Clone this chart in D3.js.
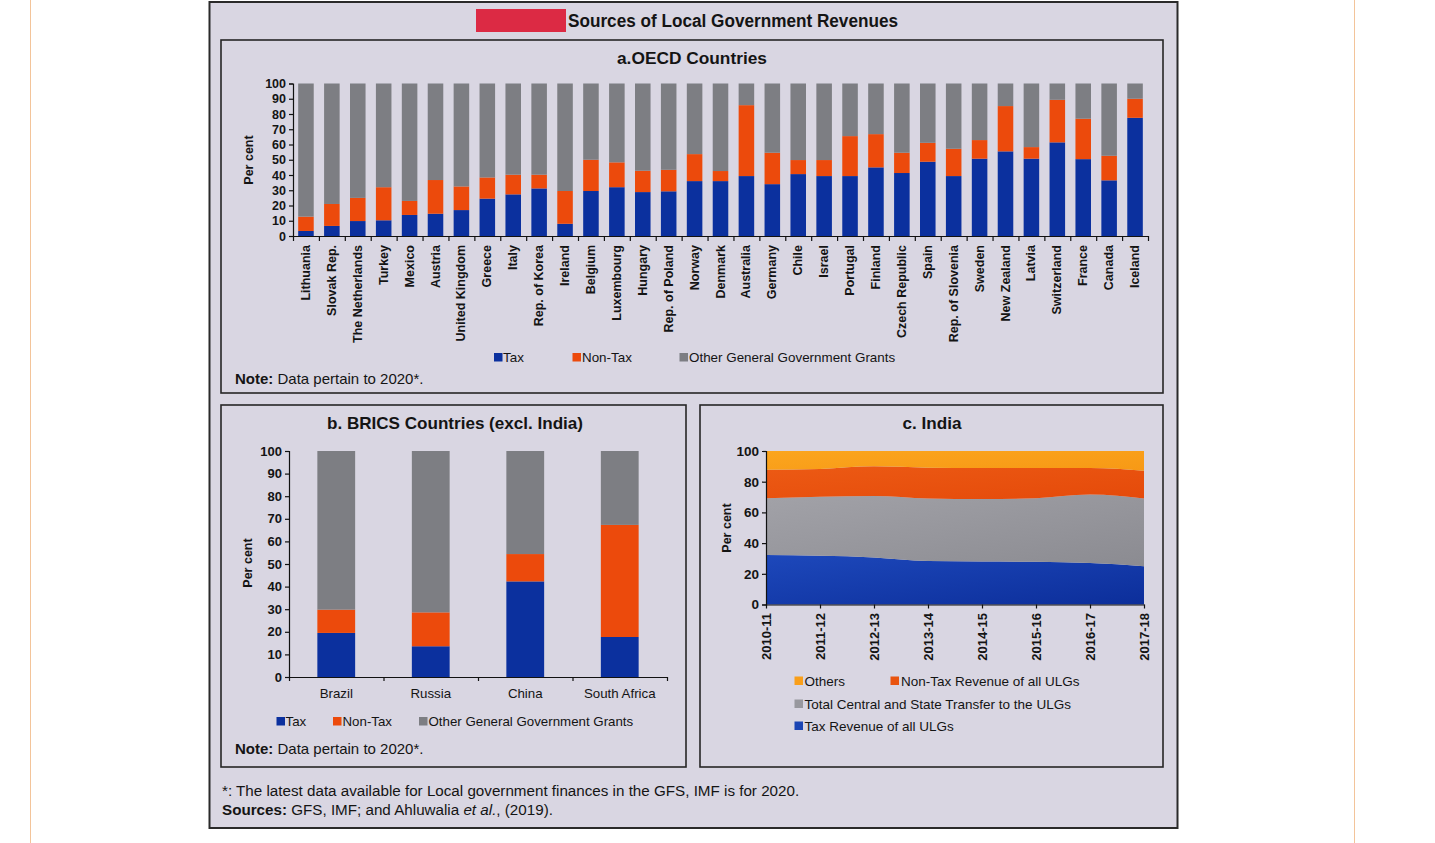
<!DOCTYPE html>
<html><head><meta charset="utf-8">
<script src="https://cdn.jsdelivr.net/npm/d3@7"></script>
<style>
body{margin:0;background:#fff;}
svg{display:block;font-family:"Liberation Sans",Arial,Helvetica,sans-serif;}
</style></head><body>
<svg id="chart" width="1435" height="843"></svg>
<script>
// ---------- DATA ----------
const oecdCountries = ["Lithuania","Slovak Rep.","The Netherlands","Turkey","Mexico","Austria","United Kingdom","Greece","Italy","Rep. of Korea","Ireland","Belgium","Luxembourg","Hungary","Rep. of Poland","Norway","Denmark","Australia","Germany","Chile","Israel","Portugal","Finland","Czech Republic","Spain","Rep. of Slovenia","Sweden","New Zealand","Latvia","Switzerland","France","Canada","Iceland"];
const oecdTax    = [3.3, 6.6, 9.8, 10.3, 13.8, 14.6, 17.0, 24.5, 27.3, 31.2, 8.0, 29.5, 32.0, 28.8, 29.3, 36.0, 36.0, 39.3, 34.0, 40.6, 39.3, 39.3, 45.0, 41.3, 48.7, 39.3, 50.7, 55.5, 50.7, 61.4, 50.4, 36.5, 77.5];
const oecdNonTax = [9.4, 14.4, 15.2, 21.7, 9.2, 22.1, 15.5, 13.9, 12.9, 9.0, 21.5, 20.5, 16.3, 14.0, 14.1, 17.7, 6.6, 46.5, 20.6, 9.2, 10.5, 26.2, 21.8, 13.3, 12.4, 17.9, 12.2, 29.7, 7.6, 27.9, 26.5, 16.1, 12.5];
const oecdOther  = [87.3, 79.0, 75.0, 68.0, 77.0, 63.3, 67.5, 61.6, 59.8, 59.8, 70.5, 50.0, 51.7, 57.2, 56.6, 46.3, 57.4, 14.2, 45.4, 50.2, 50.2, 34.5, 33.2, 45.4, 38.9, 42.8, 37.1, 14.8, 41.7, 10.7, 23.1, 47.4, 10.0];

const bricsCountries = ["Brazil","Russia","China","South Africa"];
const bricsTax    = [19.5, 13.6, 42.3, 17.7];
const bricsNonTax = [10.3, 15.0, 12.1, 49.6];
const bricsOther  = [70.2, 71.4, 45.6, 32.7];

const indiaYears    = ["2010-11","2011-12","2012-13","2013-14","2014-15","2015-16","2016-17","2017-18"];
const indiaTax      = [32.2, 31.7, 30.7, 28.3, 28.0, 27.8, 27.0, 25.0];
const indiaTransfer = [37.1, 38.5, 40.0, 40.8, 40.7, 41.5, 44.7, 44.1];
const indiaNonTax   = [18.5, 18.1, 19.3, 20.0, 20.2, 19.6, 17.2, 18.1];
const indiaOthers   = [12.2, 11.7, 10.0, 10.9, 11.1, 11.1, 11.1, 12.8];

const ticksA = [0,10,20,30,40,50,60,70,80,90,100];
const ticksB = [0,10,20,30,40,50,60,70,80,90,100];
const ticksC = [0,20,40,60,80,100];

// ---------- STYLE ----------
const C = {tax:"#0b309e", nontax:"#ec4a0c", other:"#7d7e83",
           iTax:"#1a44b4", iTransfer:"#98989e", iNonTax:"#e9540f", iOthers:"#f99f1a",
           bg:"#d9d6e2", ink:"#141414"};

const svg = d3.select("#chart");

// gradients for India areas
const defs = svg.append("defs");
function grad(id, c1, c2){
  const g = defs.append("linearGradient").attr("id",id).attr("x1","0").attr("y1","0").attr("x2","1").attr("y2","1");
  g.append("stop").attr("offset","0").attr("stop-color",c1);
  g.append("stop").attr("offset","1").attr("stop-color",c2);
}
grad("gTax","#1d48bb","#0c2e9a");
grad("gTransfer","#a2a2a8","#8b8b91");
grad("gNonTax","#ec5a14","#e54a0a");
grad("gOthers","#fba51e","#f79915");

// page guide lines
svg.append("line").attr("x1",30.5).attr("x2",30.5).attr("y1",0).attr("y2",843).attr("stroke","#f3c49a");
svg.append("line").attr("x1",1354.5).attr("x2",1354.5).attr("y1",0).attr("y2",843).attr("stroke","#f3c49a");

// outer box
svg.append("rect").attr("x",209.5).attr("y",2).attr("width",968).attr("height",826)
  .attr("fill",C.bg).attr("stroke","#2a2a2a").attr("stroke-width",2);

// main title
svg.append("rect").attr("x",476).attr("y",9).attr("width",90).attr("height",23).attr("fill","#dc2a44");
svg.append("text").attr("x",568).attr("y",20.5).attr("dominant-baseline","central")
  .attr("font-size",17.5).attr("font-weight","bold").attr("fill",C.ink)
  .attr("textLength",330).attr("lengthAdjust","spacingAndGlyphs")
  .text("Sources of Local Government Revenues");

// panels
function panel(x,y,w,h,title,tx,tw){
  svg.append("rect").attr("x",x).attr("y",y).attr("width",w).attr("height",h)
    .attr("fill",C.bg).attr("stroke","#262626").attr("stroke-width",1.6);
  svg.append("text").attr("x",tx).attr("y",y+18.5).attr("dominant-baseline","central")
    .attr("text-anchor","middle").attr("font-size",17).attr("font-weight","bold").attr("fill",C.ink)
    .attr("textLength",tw).attr("lengthAdjust","spacingAndGlyphs").text(title);
}
panel(221,40,942,353,"a.OECD Countries",692,150);
panel(221,405,465,362,"b. BRICS Countries (excl. India)",455,256);
panel(700,405,463,362,"c. India",932,59);

function styleAxis(g,fs){
  g.selectAll("path,line").attr("stroke","#111").attr("stroke-width",1.2);
  g.selectAll("text").attr("font-size",fs).attr("font-weight","bold").attr("fill",C.ink)
    .attr("font-family","'Liberation Sans',Arial,sans-serif");
}
function yLabel(x,y){
  svg.append("text").attr("transform",`translate(${x},${y}) rotate(-90)`)
    .attr("text-anchor","middle").attr("dominant-baseline","central")
    .attr("font-size",12.5).attr("font-weight","bold").attr("fill",C.ink).text("Per cent");
}
function legend(items,y,fs){
  items.forEach(it=>{
    svg.append("rect").attr("x",it.sx).attr("y",y-4.5).attr("width",8.5).attr("height",8.5).attr("fill",it.c);
    svg.append("text").attr("x",it.tx).attr("y",y).attr("dominant-baseline","central")
      .attr("font-size",fs).attr("fill",C.ink).text(it.t);
  });
}
function note(x,y){
  const t = svg.append("text").attr("x",x).attr("y",y).attr("dominant-baseline","central")
    .attr("font-size",15).attr("fill",C.ink);
  t.append("tspan").attr("font-weight","bold").text("Note:");
  t.append("tspan").text(" Data pertain to 2020*.");
}

// ---------- PANEL A ----------
{
  const x = d3.scaleBand().domain(oecdCountries).range([293,1148]).paddingInner(0.4).paddingOuter(0.2);
  const y = d3.scaleLinear().domain([0,100]).range([236,83.5]);
  const rows = oecdCountries.map((c,i)=>({c, tax:oecdTax[i], nontax:oecdNonTax[i], other:oecdOther[i]}));
  const series = d3.stack().keys(["tax","nontax","other"])(rows);
  const col = {tax:C.tax, nontax:C.nontax, other:C.other};
  svg.append("g").selectAll("g").data(series).join("g").attr("fill",s=>col[s.key])
    .selectAll("rect").data(s=>s).join("rect")
    .attr("x",d=>x(d.data.c)).attr("width",x.bandwidth())
    .attr("y",d=>y(Math.min(100,d[1]))).attr("height",d=>y(d[0])-y(Math.min(100,d[1])));
  const ya = svg.append("g").attr("transform","translate(293,0)")
    .call(d3.axisLeft(y).tickValues(ticksA).tickSize(4).tickPadding(3));
  styleAxis(ya,12.5);
  const xi = d3.scaleLinear().domain([0,oecdCountries.length]).range([293,1148]);
  const xa = svg.append("g").attr("transform","translate(0,236)")
    .call(d3.axisBottom(xi).tickValues(d3.range(oecdCountries.length+1)).tickFormat("").tickSize(5).tickSizeOuter(0));
  styleAxis(xa,12);
  svg.append("g").selectAll("text").data(oecdCountries).join("text")
    .attr("transform",c=>`translate(${x(c)+x.bandwidth()/2},245) rotate(-90)`)
    .attr("text-anchor","end").attr("dominant-baseline","central")
    .attr("font-size",12.5).attr("font-weight","bold").attr("fill",C.ink).text(c=>c);
  yLabel(249,160);
  legend([{sx:494,tx:503,c:C.tax,t:"Tax"},{sx:572.5,tx:582,c:C.nontax,t:"Non-Tax"},{sx:679.5,tx:689,c:C.other,t:"Other General Government Grants"}],357.5,13.4);
  note(235,378);
}

// ---------- PANEL B ----------
{
  const x = d3.scaleBand().domain(bricsCountries).range([289,667]).paddingInner(0.6).paddingOuter(0.3);
  const y = d3.scaleLinear().domain([0,100]).range([677,451]);
  const rows = bricsCountries.map((c,i)=>({c, tax:bricsTax[i], nontax:bricsNonTax[i], other:bricsOther[i]}));
  const series = d3.stack().keys(["tax","nontax","other"])(rows);
  const col = {tax:C.tax, nontax:C.nontax, other:C.other};
  svg.append("g").selectAll("g").data(series).join("g").attr("fill",s=>col[s.key])
    .selectAll("rect").data(s=>s).join("rect")
    .attr("x",d=>x(d.data.c)).attr("width",x.bandwidth())
    .attr("y",d=>y(Math.min(100,d[1]))).attr("height",d=>y(d[0])-y(Math.min(100,d[1])));
  const ya = svg.append("g").attr("transform","translate(289,0)")
    .call(d3.axisLeft(y).tickValues(ticksB).tickSize(4).tickPadding(3));
  styleAxis(ya,13);
  const xi = d3.scaleLinear().domain([0,bricsCountries.length]).range([289,667]);
  const xa = svg.append("g").attr("transform","translate(0,677)")
    .call(d3.axisBottom(xi).tickValues(d3.range(bricsCountries.length+1)).tickFormat("").tickSize(4).tickSizeOuter(0));
  styleAxis(xa,12);
  svg.append("g").selectAll("text").data(bricsCountries).join("text")
    .attr("x",c=>x(c)+x.bandwidth()/2).attr("y",693).attr("text-anchor","middle").attr("dominant-baseline","central")
    .attr("font-size",13.3).attr("fill",C.ink).text(c=>c);
  yLabel(248,563);
  legend([{sx:276.5,tx:285.5,c:C.tax,t:"Tax"},{sx:333,tx:342.5,c:C.nontax,t:"Non-Tax"},{sx:419,tx:428.5,c:C.other,t:"Other General Government Grants"}],721.5,13.3);
  note(235,747.5);
}

// ---------- PANEL C ----------
{
  const x = d3.scalePoint().domain(indiaYears).range([766,1144]);
  const y = d3.scaleLinear().domain([0,100]).range([604.5,451]);
  const rows = indiaYears.map((yr,i)=>({yr, tax:indiaTax[i], transfer:indiaTransfer[i], nontax:indiaNonTax[i], others:indiaOthers[i]}));
  const series = d3.stack().keys(["tax","transfer","nontax","others"])(rows);
  const col = {tax:"url(#gTax)", transfer:"url(#gTransfer)", nontax:"url(#gNonTax)", others:"url(#gOthers)"};
  const area = d3.area().x(d=>x(d.data.yr)).y0(d=>y(d[0])).y1(d=>y(Math.min(100,d[1]))).curve(d3.curveMonotoneX);
  svg.append("g").selectAll("path").data(series).join("path").attr("fill",s=>col[s.key]).attr("d",area);
  const ya = svg.append("g").attr("transform","translate(766,0)")
    .call(d3.axisLeft(y).tickValues(ticksC).tickSize(4).tickPadding(3));
  styleAxis(ya,13.5);
  const xa = svg.append("g").attr("transform","translate(0,604.5)")
    .call(d3.axisBottom(x).tickFormat("").tickSize(4).tickSizeOuter(0));
  styleAxis(xa,12);
  svg.append("g").selectAll("text").data(indiaYears).join("text")
    .attr("transform",yr=>`translate(${x(yr)},613) rotate(-90)`)
    .attr("text-anchor","end").attr("dominant-baseline","central")
    .attr("font-size",13).attr("font-weight","bold").attr("fill",C.ink).text(yr=>yr);
  yLabel(727,528);
  legend([{sx:794.5,tx:804.5,c:C.iOthers,t:"Others"},{sx:890.5,tx:901,c:C.iNonTax,t:"Non-Tax Revenue of all ULGs"}],681,13.5);
  legend([{sx:794.5,tx:804.5,c:C.iTransfer,t:"Total Central and State Transfer to the ULGs"}],704,13.5);
  legend([{sx:794.5,tx:804.5,c:C.iTax,t:"Tax Revenue of all ULGs"}],726,13.5);
}

// ---------- FOOTNOTE ----------
svg.append("text").attr("x",222).attr("y",790).attr("dominant-baseline","central")
  .attr("font-size",15.2).attr("fill",C.ink)
  .text("*: The latest data available for Local government finances in the GFS, IMF is for 2020.");
{
  const t = svg.append("text").attr("x",222).attr("y",809).attr("dominant-baseline","central")
    .attr("font-size",15.2).attr("fill",C.ink);
  t.append("tspan").attr("font-weight","bold").text("Sources:");
  t.append("tspan").text(" GFS, IMF; and Ahluwalia ");
  t.append("tspan").attr("font-style","italic").text("et al.");
  t.append("tspan").text(", (2019).");
}
</script>
</body></html>
